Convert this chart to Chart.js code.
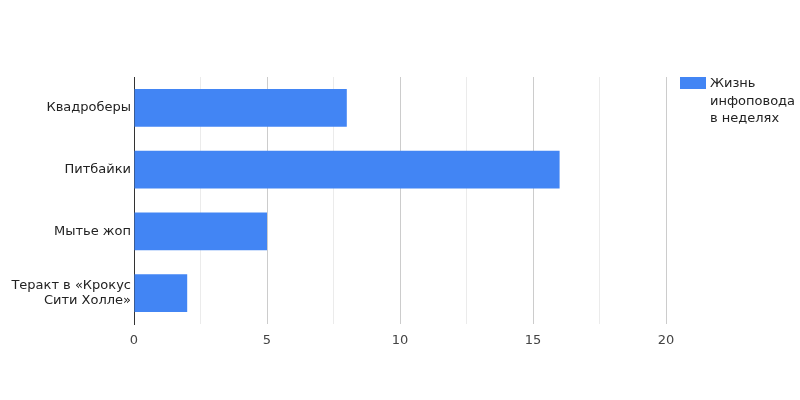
<!DOCTYPE html>
<html>
<head>
<meta charset="utf-8">
<script src="https://cdn.jsdelivr.net/npm/chart.js@4"></script>
<style>
  html, body { margin: 0; padding: 0; background: #fff; }
  #wrap { width: 800px; height: 400px; }
</style>
</head>
<body>
<div id="wrap"><canvas id="chart"></canvas></div>
<script>
const categories = [
  'Квадроберы',
  'Питбайки',
  'Мытье жоп',
  ['Теракт в «Крокус', 'Сити Холле»']
];
const weeks = [8, 16, 5, 2];
const seriesName = ['Жизнь', 'инфоповода', 'в неделях'];
const axisMax = 20;
const majorStep = 5;
const minorStep = 2.5;

const FONT = 'DejaVu Sans';
const BLUE = '#4285f4';

// legend drawn by hand so the label can wrap like the original
const sideLegend = {
  id: 'sideLegend',
  afterDraw(chart) {
    const ctx = chart.ctx;
    const ds = chart.data.datasets[0];
    ctx.save();
    ctx.fillStyle = ds.backgroundColor;
    ctx.fillRect(680, 77, 26, 12);
    ctx.fillStyle = '#222';
    ctx.font = '13px "' + FONT + '"';
    ctx.textBaseline = 'middle';
    ctx.textAlign = 'left';
    ds.label.forEach((line, i) => {
      ctx.fillText(line, 710, 84 + i * 17.5);
    });
    ctx.restore();
  }
};

new Chart(document.getElementById('chart'), {
  type: 'bar',
  data: {
    labels: categories,
    datasets: [{
      label: seriesName,
      data: weeks,
      backgroundColor: BLUE,
      borderWidth: 0,
      categoryPercentage: 1,
      barPercentage: 0.613
    }]
  },
  options: {
    indexAxis: 'y',
    responsive: true,
    maintainAspectRatio: false,
    animation: false,
    layout: { padding: { top: 77, right: 134, bottom: 0, left: 0 } },
    plugins: {
      legend: { display: false },
      tooltip: { enabled: false }
    },
    scales: {
      x: {
        min: 0,
        max: axisMax,
        ticks: {
          stepSize: minorStep,
          padding: 9,
          color: '#444',
          font: { family: FONT, size: 13 },
          callback: (v) => (v % majorStep === 0 ? v : '')
        },
        grid: {
          drawTicks: false,
          color: (c) => (c.tick && c.tick.value % majorStep === 0 ? '#cccccc' : '#ebebeb')
        },
        border: { display: false },
        afterFit: (s) => { s.height = 76; }
      },
      y: {
        ticks: {
          padding: 3,
          color: '#222',
          font: { family: FONT, size: 13 }
        },
        grid: { display: false, drawTicks: false },
        border: { display: true, color: '#333', width: 1 },
        afterFit: (s) => { s.width = 134; }
      }
    }
  },
  plugins: [sideLegend]
});
</script>
</body>
</html>
